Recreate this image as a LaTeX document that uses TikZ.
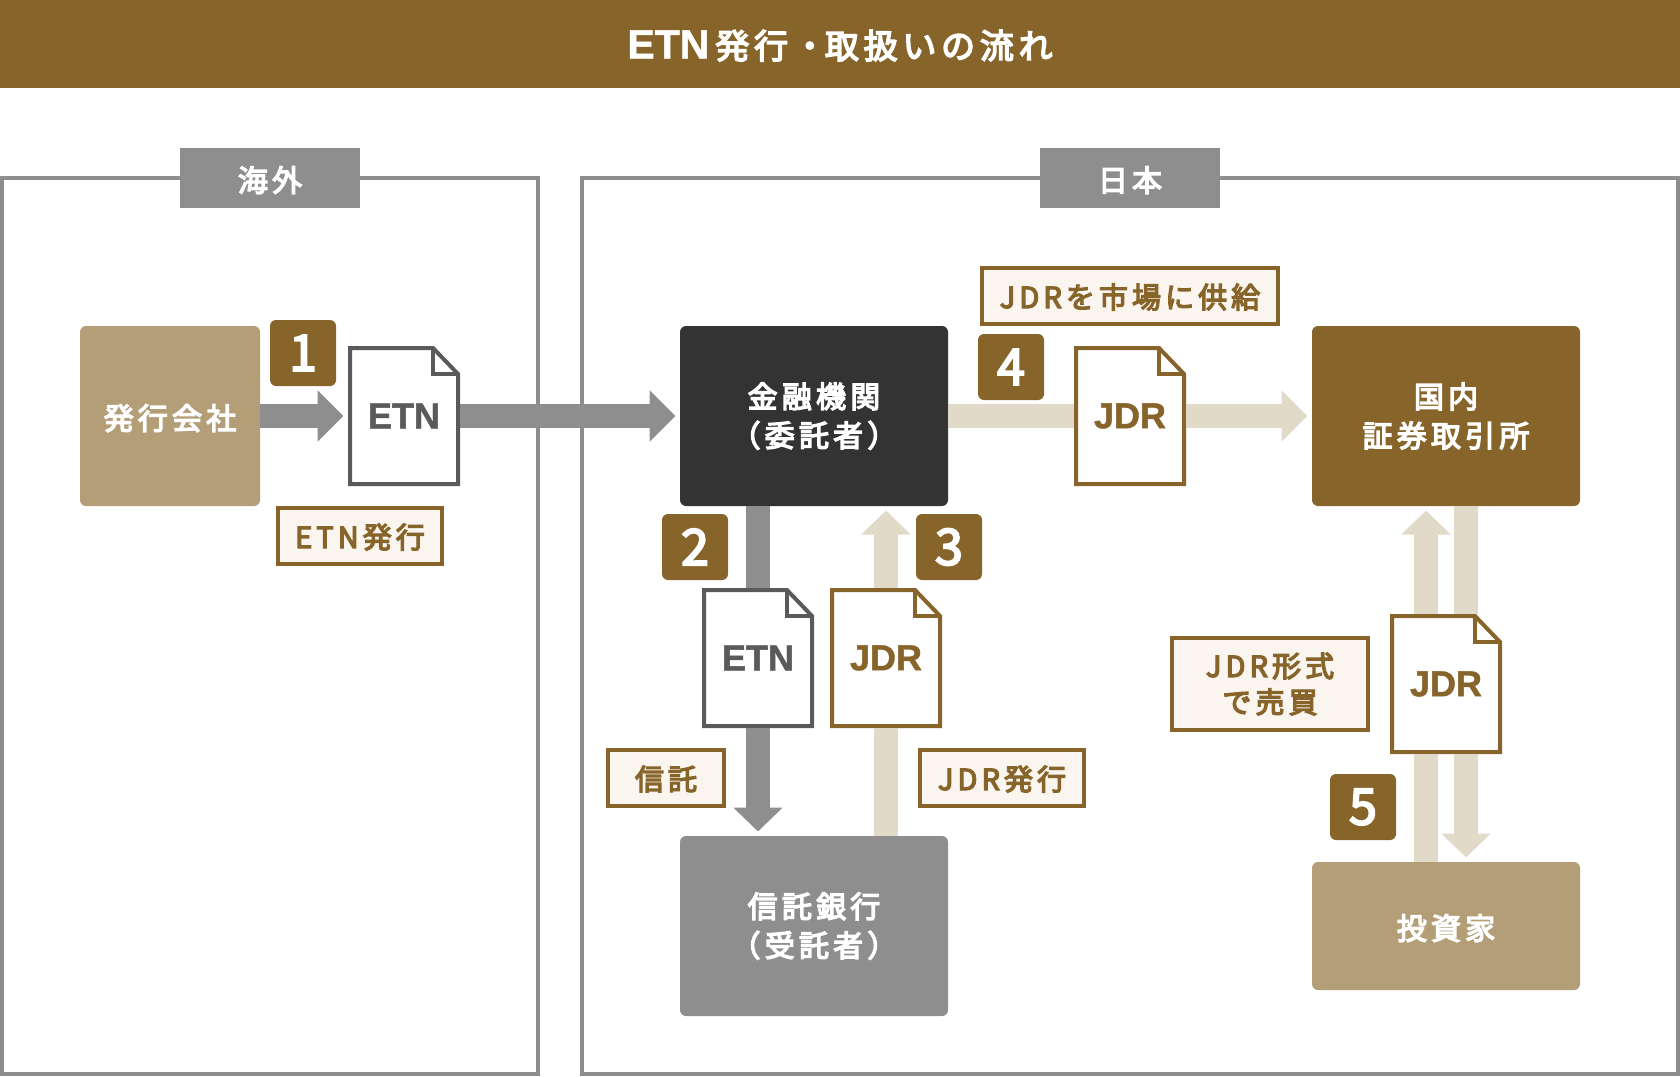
\documentclass[tikz,border=0pt]{standalone}
\usepackage{fontspec}
\setmainfont{Noto Sans CJK JP}
\newfontfamily\jpfont[LetterSpace=14,FakeBold=4.5]{Noto Sans CJK JP}
\newfontfamily\numfont[FakeBold=4]{Noto Sans CJK JP}
\newfontfamily\docfont[FakeBold=1.2]{Liberation Sans}
\usetikzlibrary{arrows.meta,positioning,calc}
\definecolor{etnbrown}{RGB}{135,100,42}
\definecolor{etntan}  {RGB}{179,158,120}
\definecolor{etngray} {RGB}{142,142,142}
\definecolor{etndark} {RGB}{51,51,51}
\definecolor{etnpale} {RGB}{226,218,200}
\definecolor{etnsheet}{RGB}{90,90,90}
\definecolor{rowcream}{RGB}{250,245,239}
\tikzset{
  blk/.style={fill=etntan,rounded corners=6pt,outer sep=0pt,inner sep=0pt,
    minimum width=268pt,minimum height=180pt,align=center,text=white,
    font=\jpfont\fontsize{30}{39}\selectfont},
  blkdark/.style={blk,fill=etndark},
  blkbrown/.style={blk,fill=etnbrown},
  blkgray/.style={blk,fill=etngray},
  oneline/.style={text height=27pt,text depth=0pt},
  frm/.style={draw=etngray,line width=4pt,outer sep=0pt},
  tagg/.style={fill=etngray,outer sep=0pt,inner sep=0pt,minimum width=180pt,minimum height=60pt,
    text=white,font=\jpfont\fontsize{30}{40}\selectfont,oneline},
  badge/.style={fill=etnbrown,rounded corners=6pt,outer sep=0pt,inner sep=0pt,
    minimum size=66pt,text=white,font=\numfont\fontsize{50}{50}\selectfont},
  lbl/.style={draw=etnbrown,fill=rowcream,line width=4pt,outer sep=0pt,inner sep=0pt,
    minimum height=56pt,align=center,text=etnbrown,
    font=\jpfont\fontsize{29}{36}\selectfont},
  lblone/.style={lbl,text height=24pt,text depth=0pt},
  sheet/.style={minimum width=108pt,minimum height=136pt,inner sep=0pt,outer sep=2pt,
    text=#1,font=\docfont\bfseries\fontsize{36}{40}\selectfont,
    append after command={\pgfextra{
      \draw[draw=#1,fill=white,line width=4pt,line join=miter]
        (\tikzlastnode.center) ++(-54pt,68pt) -- ++(83pt,0pt) -- ++(25pt,-26pt)
        -- ++(0pt,-110pt) -- ++(-108pt,0pt) -- cycle;
      \draw[draw=#1,line width=4pt,line join=miter]
        (\tikzlastnode.center) ++(29pt,68pt) -- ++(0pt,-26pt) -- ++(25pt,0pt);
    }}},
  arr/.style={line width=24pt,color=etngray},
  arrp/.style={arr,color=etnpale},
  tip/.style={-{Triangle[length=26pt,width=50pt]},shorten >=4.5pt},
  tipv/.style={-{Triangle[length=24pt,width=48pt]},shorten >=4.5pt},
}
\begin{document}
\begin{tikzpicture}[x=1pt,y=-1pt]
  \useasboundingbox (0,0) rectangle (1680,1076);

  \node[fill=etnbrown,minimum width=1680pt,minimum height=88pt,outer sep=0pt,inner sep=0pt,
    text=white,text height=29pt,text depth=0pt,font=\jpfont\fontsize{34}{40}\selectfont](title) at (840,44)
    {{\docfont\bfseries\fontsize{41}{40}\selectfont ETN}\kern6pt 発行・\kern-2pt 取扱いの流れ};

  \node[frm,minimum width=536pt,minimum height=896pt](abroad) at (270,626){};
  \node[frm,minimum width=1096pt,minimum height=896pt](japan) at (1130,626){};
  \node[tagg](tabroad) at (abroad.north){海外};
  \node[tagg](tjapan) at (japan.north){日本};

  \node[blk,oneline,minimum width=180pt](iss) at (170,416){発行会社};
  \node[blkdark](fin) at (814,416){金融機関\\（委託者）};
  \node[blkbrown](exch) at (1446,416){国内\\証券取引所};
  \node[blkgray](tru) at (814,926){信託銀行\\（受託者）};
  \node[blk,oneline,minimum height=128pt](inv) at (1446,926){投資家};

  \node[sheet=etnsheet,right=88pt of iss](etna){ETN};
  \node[sheet=etnbrown](jdrb) at ($(fin)!0.5!(exch)$){JDR};
  \node[sheet=etnsheet](etnb) at (758,658){ETN};
  \node[sheet=etnbrown](jdrc) at (886,658){JDR};
  \node[sheet=etnbrown](jdrd) at (1446,684){JDR};

  \draw[arr,tip](iss.east)--(etna.west);
  \draw[arr,tip](etna.east)--(fin.west);
  \draw[arr](etnb.north|-fin.south)--(etnb.north);
  \draw[arr,tipv](etnb.south)--(etnb.south|-tru.north);
  \draw[arrp](jdrc.south|-tru.north)--(jdrc.south);
  \draw[arrp,tipv](jdrc.north)--(jdrc.north|-fin.south);
  \draw[arrp](fin.east)--(jdrb.west);
  \draw[arrp,tip](jdrb.east)--(exch.west);
  \draw[arrp]([xshift=-20pt]inv.north)--([xshift=-20pt]jdrd.south);
  \draw[arrp,tipv]([xshift=-20pt]jdrd.north)--([xshift=-20pt]exch.south);
  \draw[arrp]([xshift=20pt]exch.south)--([xshift=20pt]jdrd.north);
  \draw[arrp,tipv]([xshift=20pt]jdrd.south)--([xshift=20pt]inv.north);

  \node[badge](n1) at (303,353){1};
  \node[badge](n2) at (695,547){2};
  \node[badge](n3) at (949,547){3};
  \node[badge](n4) at (1011,367){4};
  \node[badge](n5) at (1363,807){5};

  \node[lblone,minimum width=164pt](letn) at (360,536){ETN発行};
  \node[lblone,minimum width=116pt](ltrust) at (666,778){信託};
  \node[lblone,minimum width=164pt](ljdr) at (1002,778){JDR発行};
  \node[lblone,minimum width=296pt](lsupply) at (1130,296){JDRを市場に供給};
  \node[lbl,minimum width=196pt,minimum height=92pt](lform) at (1270,684){JDR形式\\で売買};
\end{tikzpicture}
\end{document}
